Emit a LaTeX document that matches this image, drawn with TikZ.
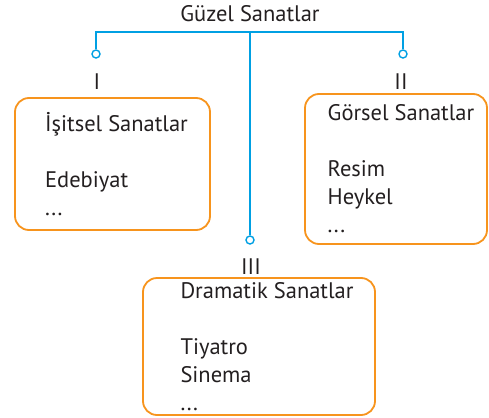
\documentclass[tikz,border=0pt]{standalone}
\usepackage{fontspec}
\setmainfont{PT Sans}
\usetikzlibrary{positioning}
\definecolor{linkblue}{RGB}{0,160,227}
\definecolor{boxorange}{RGB}{247,148,29}
\definecolor{textgray}{RGB}{35,31,32}

\begin{document}
\begin{tikzpicture}[
        x=1pt, y=-1pt,
        font=\fontsize{22.5}{28}\selectfont, text=textgray,
        link/.style={draw=linkblue, line width=1.6pt},
        knob/.style={circle, draw=linkblue, fill=white, line width=1.4pt, inner sep=0pt, minimum size=8pt},
        group/.style={draw=boxorange, line width=1.8pt, rounded corners=14pt, align=left, inner sep=0pt},
        num/.style={inner sep=1pt}
    ]
    \useasboundingbox (0,0) rectangle (489,417);

    % root
    \node (root) at (250,14) {Güzel Sanatlar};
    \coordinate (split) at (250,32);
    \coordinate (splitL) at (96,32);
    \coordinate (splitR) at (403,32);

    % branch ends
    \node[knob] (knobI) at (96,54) {};
    \node[knob] (knobII) at (403,54) {};
    \node[knob] (knobIII) at (250,240) {};

    \node[num] (numI) at (97,82) {I};
    \node[num] (numII) at (401,82) {II};
    \node[num] (numIII) at (251,267) {III};

    % groups
    \node[group, minimum width=195pt, minimum height=132pt] (hear) at (112.5,164)
        {\hspace*{8pt}İşitsel Sanatlar\\[28pt]\hspace*{8pt}Edebiyat\\\hspace*{8pt}...};
    \node[group, minimum width=182pt, minimum height=150pt] (see) at (396,169)
        {\hspace*{10pt}Görsel Sanatlar\\[28pt]\hspace*{10pt}Resim\\\hspace*{10pt}Heykel\\\hspace*{10pt}...};
    \node[group, minimum width=232pt, minimum height=137pt] (drama) at (259,346.5)
        {\hspace*{16pt}Dramatik Sanatlar\\[28pt]\hspace*{16pt}Tiyatro\\\hspace*{16pt}Sinema\\\hspace*{16pt}...};

    % connectors
    \draw[link] (root.south |- split) -- (knobIII);
    \draw[link] (knobI) -- (splitL) -- (splitR) -- (knobII);
\end{tikzpicture}
\end{document}
